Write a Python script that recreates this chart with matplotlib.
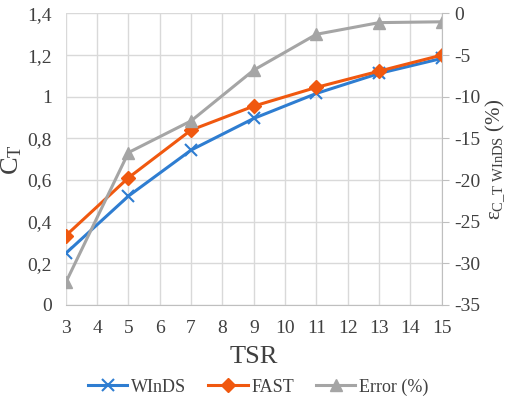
import matplotlib
matplotlib.use('Agg')
import matplotlib.pyplot as plt
from matplotlib.ticker import FuncFormatter

plt.rcParams['font.family'] = 'serif'
plt.rcParams['font.serif'] = ['Liberation Serif', 'DejaVu Serif']
plt.rcParams['mathtext.fontset'] = 'custom'
plt.rcParams['mathtext.rm'] = 'Liberation Serif'
plt.rcParams['mathtext.it'] = 'Liberation Serif:italic'

tsr = [3, 5, 7, 9, 11, 13, 15]
windss = [0.248, 0.523, 0.744, 0.896, 1.016, 1.112, 1.184]
fast = [0.333, 0.611, 0.840, 0.955, 1.045, 1.123, 1.200]
error = [-32.3, -16.7, -12.9, -6.8, -2.5, -1.1, -1.0]

c_blue = '#2E7DD1'
c_orange = '#F0580F'
c_gray = '#A5A5A5'
tick_col = '#404040'

fig = plt.figure(figsize=(5.06, 4.08), dpi=100)
ax = fig.add_axes([0.130, 0.2525, 0.743, 0.7145])
ax2 = ax.twinx()

l1, = ax.plot(tsr, windss, '-', color=c_blue, lw=2.2, marker='x', ms=8, mew=1.5, label='WInDS')
l2, = ax.plot(tsr, fast, '-', color=c_orange, lw=2.2, marker='D', ms=7, label='FAST')
l3, = ax2.plot(tsr, error, '-', color=c_gray, lw=2.2, marker='^', ms=9, label='Error (%)')

ax.set_xlim(3, 15)
ax.set_ylim(0, 1.4)
ax.set_xticks(range(3, 16))
ax.set_yticks([0, 0.2, 0.4, 0.6, 0.8, 1.0, 1.2, 1.4])
ax.yaxis.set_major_formatter(FuncFormatter(lambda v, p: ('%g' % round(v, 1)).replace('.', ',')))
ax2.set_ylim(-35, 0)
ax2.set_yticks(range(-35, 1, 5))
ax2.yaxis.set_major_formatter(FuncFormatter(lambda v, p: '%d' % v))

ax.grid(True, color='#D9D9D9', lw=1)
ax.set_axisbelow(True)
for a in (ax, ax2):
    for s in a.spines.values():
        s.set_visible(False)
ax.spines['bottom'].set_visible(True)
ax.spines['bottom'].set_color('#BFBFBF')
ax2.spines['right'].set_visible(True)
ax2.spines['right'].set_color('#BFBFBF')

ax.tick_params(axis='x', length=0, labelsize=14, colors=tick_col, pad=11)
ax.tick_params(axis='y', length=0, labelsize=14, colors=tick_col, pad=10)
ax2.tick_params(axis='y', length=5, color='#BFBFBF', labelsize=14, labelcolor=tick_col, pad=4)

ax.set_xlabel('TSR', fontsize=19, color=tick_col, labelpad=6)
ax.set_ylabel(r'C$_\mathrm{T}$', fontsize=19, color=tick_col, labelpad=2)
ax2.set_ylabel('ε' + r'$_{\mathrm{C\_T\ WInDS}}$ (%)', fontsize=15, color=tick_col, labelpad=2)

fig.legend(handles=[l1, l2, l3], loc='lower center', bbox_to_anchor=(0.51, -0.01),
           ncol=3, frameon=False, fontsize=13, handlelength=2.2, columnspacing=1.2,
           handletextpad=0.2, labelcolor=tick_col)

plt.savefig('out.png', dpi=100)
